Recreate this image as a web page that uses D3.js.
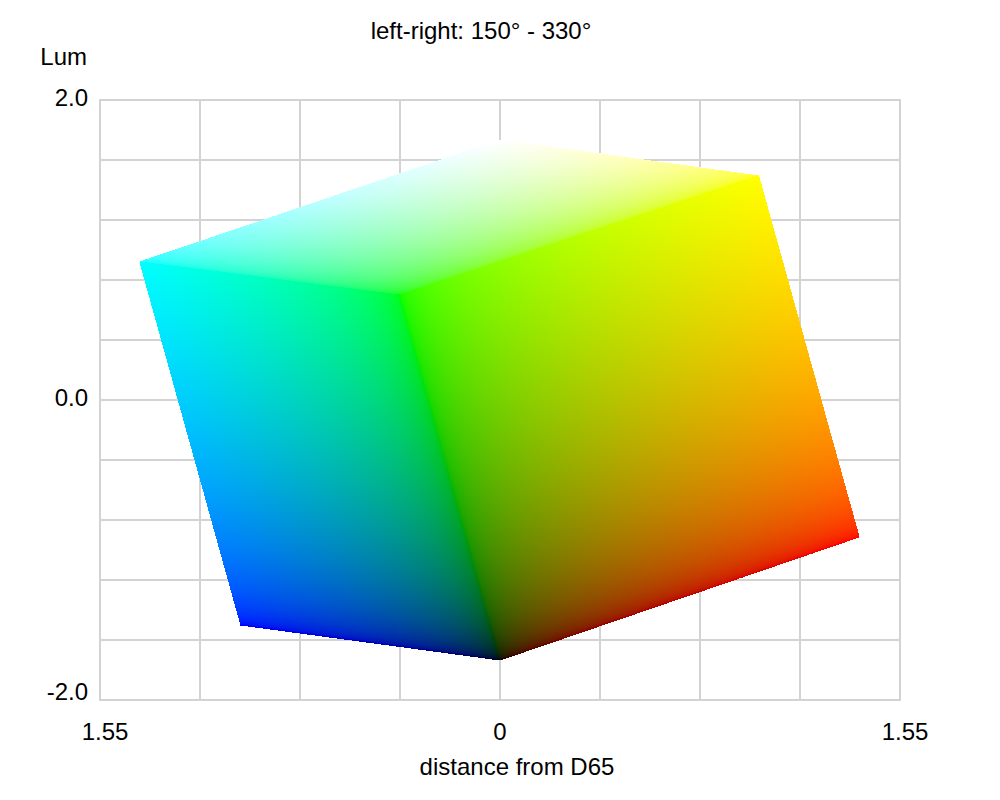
<!DOCTYPE html>
<html><head><meta charset="utf-8">
<script src="https://cdn.jsdelivr.net/npm/d3@7"></script>
<style>
html,body{margin:0;padding:0;background:#fff}
#wrap{position:relative;width:1000px;height:800px;overflow:hidden}
svg,canvas{position:absolute;left:0;top:0}
text{font-family:"Liberation Sans",Arial,sans-serif;font-size:24px;fill:#000}
</style></head><body><div id="wrap"></div>
<script>
// Chart text and ticks
const titleText = "left-right: 150\u00b0 - 330\u00b0";
const xAxisTitle = "distance from D65";
const yAxisTitle = "Lum";
const xDomain = [-1.55, 1.55];
const yDomain = [-2, 2];
const xGridValues = [-1.55, -1.1625, -0.775, -0.3875, 0, 0.3875, 0.775, 1.1625, 1.55];
const yGridValues = [-2, -1.6, -1.2, -0.8, -0.4, 0, 0.4, 0.8, 1.2, 1.6, 2];
const xTickValues = [-1.55, 0, 1.55];
const xTickLabels = ["1.55", "0", "1.55"];
const yTickValues = [2, 0, -2];
const yTickLabels = ["2.0", "0.0", "-2.0"];

// RGB cube corners: projected position (distance, luminance) and colour
const cornerDist = { black: 0, red: 1.391, green: -0.388, blue: -1.004, yellow: 1.002, cyan: -1.395, white: 0 };
const cornerLum  = { black: -1.733, red: -0.913, green: 0.7, blue: -1.5, yellow: 1.493, cyan: 0.92, white: 1.733 };
const cornerRGB  = { black: [0,0,0], red: [1,0,0], green: [0,1,0], blue: [0,0,1], yellow: [1,1,0], cyan: [0,1,1], white: [1,1,1] };
const faceCorners = [
  ["green", "yellow", "white", "cyan"],
  ["green", "cyan", "blue", "black"],
  ["green", "yellow", "red", "black"]
];
const displayGamma = 2.2;

const W = 1000, H = 800;
const x = d3.scaleLinear().domain(xDomain).range([100, 900]);
const y = d3.scaleLinear().domain(yDomain).range([700, 100]);
const tone = d3.scalePow().exponent(1 / displayGamma).domain([0, 1]).range([0, 255]);

const svg = d3.select("#wrap").append("svg").attr("width", W).attr("height", H);
const grid = svg.append("g").attr("stroke", "#d3d3d3").attr("stroke-width", 2);
grid.selectAll("line.v").data(xGridValues).join("line").attr("class", "v")
  .attr("x1", d => x(d)).attr("x2", d => x(d)).attr("y1", y(yDomain[1]) - 1).attr("y2", y(yDomain[0]) + 1);
grid.selectAll("line.h").data(yGridValues).join("line").attr("class", "h")
  .attr("y1", d => y(d)).attr("y2", d => y(d)).attr("x1", x(xDomain[0]) - 1).attr("x2", x(xDomain[1]) + 1);

svg.append("text").attr("x", 481).attr("y", 39).attr("text-anchor", "middle").text(titleText);
svg.append("text").attr("x", 87).attr("y", 65).attr("text-anchor", "end").text(yAxisTitle);
svg.append("text").attr("x", 517).attr("y", 775).attr("text-anchor", "middle").text(xAxisTitle);
svg.selectAll("text.yt").data(yTickValues).join("text").attr("class", "yt")
  .attr("x", 88).attr("y", d => y(d) + (d === -2 ? 0 : 6))
  .attr("text-anchor", "end").text((d, i) => yTickLabels[i]);
svg.selectAll("text.xt").data(xTickValues).join("text").attr("class", "xt")
  .attr("x", d => x(d) + (d === 0 ? 0 : 5)).attr("y", 740)
  .attr("text-anchor", "middle").text((d, i) => xTickLabels[i]);

// Cube faces painted per pixel, aliased, with the corners placed by the scales
const canvas = d3.select("#wrap").append("canvas").attr("width", W).attr("height", H);
const ctx = canvas.node().getContext("2d");
const img = ctx.createImageData(W, H);
const N = 1400;
faceCorners.forEach(names => {
  const p = names.map(n => [x(cornerDist[n]), y(cornerLum[n])]);
  const c = names.map(n => cornerRGB[n]);
  for (let i = 0; i <= N; i++) {
    const u = i / N;
    for (let j = 0; j <= N; j++) {
      const v = j / N;
      const w0 = (1-u)*(1-v), w1 = u*(1-v), w2 = u*v, w3 = (1-u)*v;
      const px = Math.floor(w0*p[0][0] + w1*p[1][0] + w2*p[2][0] + w3*p[3][0]);
      const py = Math.floor(w0*p[0][1] + w1*p[1][1] + w2*p[2][1] + w3*p[3][1]);
      const k = (py*W + px)*4;
      for (let b = 0; b < 3; b++)
        img.data[k+b] = tone(w0*c[0][b] + w1*c[1][b] + w2*c[2][b] + w3*c[3][b]);
      img.data[k+3] = 255;
    }
  }
});
ctx.putImageData(img, 0, 0);
</script></body></html>
